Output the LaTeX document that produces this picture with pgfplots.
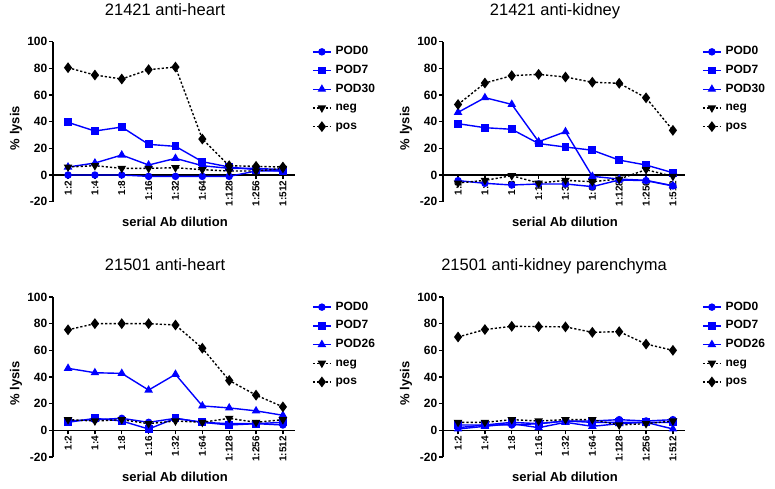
\documentclass[border=0pt]{standalone}
\usepackage{fontspec}
\setmainfont{Liberation Sans}
\usepackage{pgfplots}
\pgfplotsset{compat=1.18}
\usepackage{pgfplotstable}

\pgfplotstableread{
x pod0 pod7 pod30 neg pos
0 0 39.5 6 6 80.5
1 0 33 9 7 75
2 0 36 15 5 72
3 -1 23 7.5 5 79
4 -1 21.5 12.5 5.5 81
5 -1 10 7 4 27
6 -1 6 5 3 7
7 3 4 5 3 6.5
8 3 3 4 5 6
}\tabA
\pgfplotstableread{
x pod0 pod7 pod30 neg pos
0 -4.2 38.5 47 -6 52.9
1 -6.2 35.5 58 -4 69
2 -7.5 34.3 53 -0.5 74.5
3 -6.7 23.6 25 -6 75.5
4 -6.7 21 32.5 -4 73.5
5 -8.7 18.6 -1 -5 69.6
6 -3.7 11.2 -3 -3 68.8
7 -4.2 7.5 -4 4 57.9
8 -8.2 1.7 -8 -1 33.5
}\tabB
\pgfplotstableread{
x pod0 pod7 pod26 neg pos
0 7 6 46.5 8 75.4
1 8 9 43.2 7 80
2 9 7 42.7 8 80
3 6 1 30.2 5 80
4 9 9 42 7 79
5 6 6 18.3 6 61.6
6 5 4 16.8 9 37.4
7 5 5 14.6 6 26.4
8 4 6 11.3 8 17.6
}\tabC
\pgfplotstableread{
x pod0 pod7 pod26 neg pos
0 2 4 1 6 70
1 4 4 3 6 75.6
2 4 6 5 8 78
3 5 5 2 7 77.8
4 7 7 6 8 77.6
5 7 6 3 8 73.5
6 8 6 5 4 74
7 7 6 6 5 64.7
8 8 6 1 7 60
}\tabD

\pgfplotsset{
 mypanel/.style={
  scale only axis, width=242pt, height=160pt,
  xmin=-0.56, xmax=8.45, ymin=-20, ymax=100,
  axis x line*=middle, axis y line*=left,
  hide obscured x ticks=false, hide obscured y ticks=false,
  axis line style={line width=1.5pt, black},
  clip=false,
  xtick={0,...,8}, xticklabels={1:2,1:4,1:8,1:16,1:32,1:64,1:128,1:256,1:512},
  ytick={-20,0,20,40,60,80,100},
  tick align=outside, major tick length=4pt, tick style={line width=1.2pt, black},
  xticklabel style={rotate=90, anchor=east, font=\bfseries\fontsize{10}{10}\selectfont, inner sep=1.5pt},
  yticklabel style={font=\bfseries\fontsize{12}{12}\selectfont, inner sep=1.5pt},
  /pgf/number format/assume math mode=true,
  xlabel={serial Ab dilution}, ylabel={\% lysis},
  xlabel style={at={(axis description cs:0.504,-0.127)}, anchor=center, font=\bfseries\fontsize{13}{13}\selectfont},
  ylabel style={at={(axis description cs:-0.153,0.46)}, anchor=center, font=\bfseries\fontsize{13}{13}\selectfont},
  title style={at={(axis description cs:0.463,1)}, anchor=base, yshift=20.5pt, font=\fontsize{16.5}{16.5}\selectfont},
  legend style={at={(axis description cs:1,1)}, anchor=north west, xshift=17pt, yshift=-3.4pt, draw=none, fill=none, inner sep=0pt, font=\bfseries\fontsize{12}{12}\selectfont, row sep=5.6pt, column sep=3pt, nodes={inner sep=1pt, text height=8.6pt, text depth=2.5pt}},
  legend cell align=left,
  legend image code/.code={\draw[mark repeat=2,mark phase=2,#1] plot coordinates {(0pt,0pt) (9pt,0pt) (18pt,0pt)};},
 },
 podA/.style={color=blue, line width=1.4pt, mark=*, mark size=3pt, mark options={solid}},
 podB/.style={color=blue, line width=1.4pt, mark=square*, mark size=3.2pt, mark options={solid}},
 podC/.style={color=blue, line width=1.4pt, mark=triangle*, mark size=3.6pt, mark options={solid}},
 negS/.style={color=black, line width=1.4pt, dash pattern=on 2.2pt off 2pt, mark=triangle*, mark size=3.6pt, mark options={solid, rotate=180}},
 posS/.style={color=black, line width=1.4pt, dash pattern=on 2.2pt off 2pt, mark=diamond*, mark size=4.3pt, mark options={solid}},
}

\begin{document}
\begin{tikzpicture}
\path[use as bounding box] (0pt,0pt) rectangle (775pt,489pt);

\begin{axis}[mypanel, at={(53pt,287.3pt)}, anchor=south west, title={21421 anti-heart}]
\addplot[podA] table[x=x,y=pod0]{\tabA};
\addplot[podB] table[x=x,y=pod7]{\tabA};
\addplot[podC] table[x=x,y=pod30]{\tabA};
\addplot[negS] table[x=x,y=neg]{\tabA};
\addplot[posS] table[x=x,y=pos]{\tabA};
\legend{POD0,POD7,POD30,neg,pos}
\end{axis}

\begin{axis}[mypanel, at={(443pt,287.3pt)}, anchor=south west, title={21421 anti-kidney}]
\addplot[podA] table[x=x,y=pod0]{\tabB};
\addplot[podB] table[x=x,y=pod7]{\tabB};
\addplot[podC] table[x=x,y=pod30]{\tabB};
\addplot[negS] table[x=x,y=neg]{\tabB};
\addplot[posS] table[x=x,y=pos]{\tabB};
\legend{POD0,POD7,POD30,neg,pos}
\end{axis}

\begin{axis}[mypanel, at={(53pt,32pt)}, anchor=south west, title={21501 anti-heart}]
\addplot[podA] table[x=x,y=pod0]{\tabC};
\addplot[podB] table[x=x,y=pod7]{\tabC};
\addplot[podC] table[x=x,y=pod26]{\tabC};
\addplot[negS] table[x=x,y=neg]{\tabC};
\addplot[posS] table[x=x,y=pos]{\tabC};
\legend{POD0,POD7,POD26,neg,pos}
\end{axis}

\begin{axis}[mypanel, at={(443pt,32pt)}, anchor=south west, title={21501 anti-kidney parenchyma}, title style={at={(axis description cs:0.459,1)}}]
\addplot[podA] table[x=x,y=pod0]{\tabD};
\addplot[podB] table[x=x,y=pod7]{\tabD};
\addplot[podC] table[x=x,y=pod26]{\tabD};
\addplot[negS] table[x=x,y=neg]{\tabD};
\addplot[posS] table[x=x,y=pos]{\tabD};
\legend{POD0,POD7,POD26,neg,pos}
\end{axis}
\end{tikzpicture}
\end{document}
